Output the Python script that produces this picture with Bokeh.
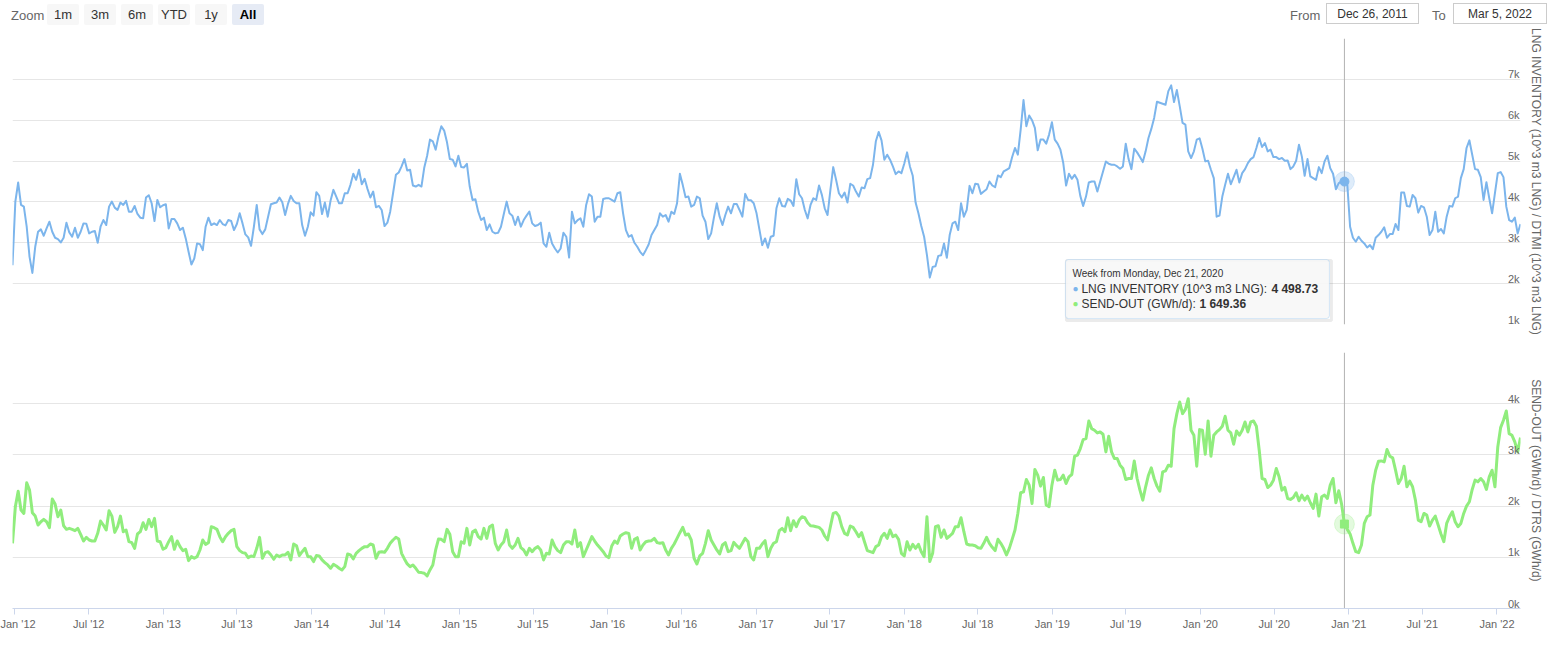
import pandas as pd
from bokeh.plotting import figure
from bokeh.models import (Range1d, FixedTicker, Grid, LinearAxis, Span, Label,
                          BoxAnnotation, Div, ColumnDataSource)
from bokeh.layouts import column
from bokeh.core.properties import value
from bokeh.embed import file_html
from bokeh.resources import INLINE

# ---------------- data ----------------
START_DATE = "2011-12-26"          # weekly points, Mondays
RANGE_FROM = "Dec 26, 2011"
RANGE_TO = "Mar 5, 2022"
ZOOM_BUTTONS = ["1m", "3m", "6m", "YTD", "1y", "All"]
SELECTED_BUTTON = "All"

INV_NAME = "LNG INVENTORY (10^3 m3 LNG)"
SEND_NAME = "SEND-OUT (GWh/d)"
INV_AXIS_TITLE = "LNG INVENTORY (10^3 m3 LNG) / DTMI (10^3 m3 LNG)"
SEND_AXIS_TITLE = "SEND-OUT (GWh/d) / DTRS (GWh/d)"

INVENTORY = [
    2451, 4008, 4475, 3926, 3885, 3393, 2656, 2262, 2902, 3270,
    3328, 3172, 3352, 3516, 3270, 3123, 3090, 3008, 3123, 3492,
    3254, 3148, 3369, 3123, 3270, 3475, 3467, 3230, 3270, 3287,
    3000, 3393, 3557, 3434, 3885, 4008, 3861, 3803, 3984, 3926,
    4025, 3762, 3762, 3902, 3705, 3615, 3598, 4107, 4164, 3967,
    3533, 4049, 3869, 3918, 3943, 3352, 3582, 3582, 3475, 3311,
    3369, 3107, 2779, 2467, 2615, 2984, 2967, 2820, 3393, 3615,
    3434, 3475, 3434, 3557, 3459, 3426, 3557, 3533, 3311, 3459,
    3721, 3475, 3205, 3131, 2926, 3393, 3926, 3328, 3213, 3328,
    3639, 3943, 3967, 3984, 4107, 3992, 3680, 3951, 4148, 4025,
    3967, 3967, 3434, 3172, 3393, 3746, 3664, 4238, 4148, 3705,
    3984, 3639, 4033, 4295, 4131, 3967, 3967, 4213, 4213, 4418,
    4689, 4541, 4787, 4434, 4566, 4320, 4107, 4254, 3869, 3902,
    3803, 3410, 3492, 3762, 4213, 4664, 4721, 4869, 5049, 4770,
    4787, 4402, 4377, 4418, 4377, 4844, 5131, 5525, 5484, 5279,
    5607, 5852, 5746, 5459, 5049, 5033, 4869, 5131, 4852, 4844,
    4934, 4377, 4049, 4066, 3762, 3557, 3615, 3311, 3451, 3270,
    3230, 3246, 3393, 3705, 4008, 3721, 3664, 3434, 3639, 3393,
    3557, 3664, 3762, 3475, 3410, 3434, 3492, 2984, 2902, 3246,
    2984, 2861, 2762, 2861, 3246, 3148, 2639, 3762, 3475, 3557,
    3598, 3393, 3926, 4189, 4131, 3516, 3639, 3639, 4074, 4090,
    4090, 4049, 4008, 4213, 4238, 3721, 3311, 3148, 3189, 3000,
    2902, 2779, 2697, 2820, 2959, 3189, 3311, 3434, 3721, 3639,
    3680, 3516, 3762, 3705, 3967, 4689, 4418, 4115, 4131, 3885,
    3926, 4131, 4090, 3664, 3516, 3090, 3230, 3623, 3967, 3639,
    3434, 3680, 3885, 3721, 3951, 3951, 3803, 3639, 4197, 4049,
    4040, 3967, 3721, 3328, 2943, 3107, 2877, 3148, 3172, 3844,
    4090, 3902, 3885, 4074, 4033, 3902, 4557, 4189, 4090, 3803,
    3598, 3926, 4090, 4049, 4402, 4172, 3844, 3680, 4295, 4852,
    4541, 4213, 4107, 4230, 3984, 4443, 4402, 4254, 4131, 4352,
    4336, 4557, 4582, 4910, 5484, 5713, 5508, 5033, 5156, 5033,
    4869, 4680, 4746, 4705, 4934, 5213, 4869, 4639, 3984, 3721,
    3410, 3148, 2697, 2148, 2410, 2426, 2680, 2697, 2984, 2631,
    3189, 3475, 3516, 3311, 3967, 3639, 3803, 4393, 4213, 4443,
    4434, 4197, 4254, 4311, 4500, 4402, 4361, 4648, 4607, 4746,
    4787, 4828, 5098, 5320, 5156, 5770, 6492, 5852, 6115, 6000,
    5811, 5262, 5525, 5525, 5426, 5648, 5951, 5525, 5426, 5279,
    4951, 4402, 4689, 4566, 4664, 4541, 4148, 3902, 4131, 4475,
    4500, 4500, 4254, 4500, 4746, 4992, 4934, 4910, 4910, 4869,
    4811, 4869, 5426, 5049, 4803, 5303, 5213, 5098, 4975, 5238,
    5566, 5787, 6057, 6451, 6426, 6402, 6377, 6713, 6852, 6443,
    6738, 6344, 5934, 5893, 5238, 5074, 5238, 5525, 5557, 5303,
    4992, 5008, 4787, 4582, 3639, 3664, 4131, 4418, 4689, 4434,
    4607, 4787, 4475, 4705, 4803, 4951, 5049, 5098, 5320, 5566,
    5344, 5443, 5238, 5279, 5098, 5098, 5049, 5074, 5008, 5016,
    4803, 4869, 5008, 5402, 5115, 4639, 5049, 4623, 4582, 4541,
    4852, 4705, 4992, 5131, 4828, 4689, 4311, 4459, 4500, 4498.73,
    4443, 3393, 3123, 3025, 3148, 3049, 2984, 2885, 2943, 2844,
    3123, 3189, 3270, 3377, 3123, 3213, 3213, 3459, 3311, 4230,
    4230, 3902, 3885, 4172, 4090, 3738, 3902, 3869, 3639, 3189,
    3311, 3762, 3270, 3336, 3230, 3639, 3902, 3885, 4090, 4131,
    4582, 4803, 5320, 5508, 5156, 4803, 4787, 4607, 4049, 4484,
    4090, 3721, 4213, 4705, 4730, 4607, 3885, 3557, 3516, 3615,
    3230, 3459,
]

SENDOUT = [
    1273, 1987, 2292, 1922, 1857, 2455, 2312, 1870, 1805, 1630,
    1695, 1740, 1695, 1578, 2137, 2039, 1792, 1922, 1617, 1546,
    1565, 1546, 1520, 1565, 1448, 1318, 1390, 1338, 1318, 1318,
    1468, 1708, 1630, 1533, 1909, 1805, 1487, 1598, 1805, 1500,
    1533, 1305, 1286, 1175, 1455, 1500, 1675, 1546, 1740, 1598,
    1760, 1318, 1305, 1156, 1188, 1305, 1403, 1156, 1318, 1208,
    1130, 1156, 935, 1013, 981, 1013, 1143, 1338, 1253, 1286,
    1598, 1578, 1546, 1403, 1305, 1403, 1468, 1520, 1546, 1208,
    1130, 1091, 1078, 994, 1026, 1013, 1175, 1390, 981, 1091,
    1110, 1046, 961, 1046, 1013, 1046, 1046, 1097, 948, 1260,
    1227, 1033, 1110, 1175, 1013, 1013, 916, 1033, 1026, 948,
    896, 851, 786, 864, 831, 786, 753, 818, 1065, 1046,
    968, 1078, 1130, 1175, 1208, 1208, 1260, 1240, 981, 1097,
    1110, 1097, 1175, 1273, 1338, 1390, 1357, 1078, 968, 870,
    818, 851, 786, 708, 701, 688, 636, 753, 851, 1143,
    1357, 1351, 1305, 1546, 1448, 1110, 1013, 1013, 1305, 1273,
    1565, 1240, 1500, 1533, 1403, 1357, 1565, 1370, 1598, 1630,
    1273, 1143, 1240, 1305, 1533, 1240, 1175, 1240, 1370, 1188,
    1143, 1046, 1175, 1110, 1175, 1208, 1143, 948, 1078, 1065,
    1338, 1208, 1130, 1091, 1240, 1305, 1305, 1260, 1533, 1208,
    1286, 1013, 1143, 1273, 1403, 1318, 1240, 1175, 1110, 1026,
    994, 1221, 1318, 1273, 1416, 1455, 1481, 1468, 1175, 1351,
    1383, 1143, 1240, 1305, 1318, 1325, 1370, 1286, 1273, 1286,
    1143, 1046, 1175, 1260, 1370, 1481, 1585, 1435, 1455, 1338,
    981, 870, 1026, 1078, 1273, 1520, 1338, 1240, 1143, 1065,
    1240, 1286, 1110, 1130, 1292, 1227, 1175, 1273, 1370, 1305,
    1013, 948, 1175, 1175, 1260, 1325, 1013, 1175, 1273, 1305,
    1520, 1565, 1500, 1773, 1520, 1714, 1598, 1727, 1792, 1773,
    1675, 1617, 1611, 1598, 1585, 1533, 1416, 1338, 1598, 1857,
    1877, 1805, 1598, 1468, 1435, 1611, 1585, 1500, 1403, 1481,
    1305, 1130, 1110, 1091, 1208, 1240, 1403, 1468, 1370, 1533,
    1403, 1435, 1351, 1078, 1026, 1305, 1143, 1253, 1175, 1253,
    1110, 1013, 1792, 916, 1078, 1598, 1617, 1390, 1533, 1370,
    1416, 1468, 1598, 1598, 1773, 1500, 1260, 1240, 1240, 1227,
    1188, 1175, 1273, 1390, 1273, 1195, 1130, 1351, 1273, 1175,
    1046, 1175, 1351, 1533, 1857, 2260, 2279, 2520, 2409, 2052,
    2715, 2604, 2390, 2559, 2020, 1987, 2409, 2701, 2507, 2520,
    2604, 2442, 2572, 2617, 2974, 2994, 3124, 3299, 3318, 3663,
    3513, 3481, 3429, 3448, 3403, 3059, 3364, 3059, 2929, 2929,
    2799, 2734, 2520, 2539, 2539, 2883, 2539, 2312, 2117, 2377,
    2604, 2747, 2539, 2390, 2292, 2669, 2689, 2799, 2779, 3513,
    3806, 4033, 3806, 3890, 4098, 3481, 3383, 2779, 3494, 3481,
    3013, 3663, 2974, 3383, 3448, 3494, 3559, 3754, 3481, 3429,
    3208, 3468, 3383, 3481, 3643, 3448, 3643, 3663, 3559, 3091,
    2539, 2520, 2364, 2409, 2507, 2734, 2572, 2312, 2364, 2149,
    2130, 2169, 2260, 2104, 2214, 2117, 2195, 2065, 1955, 2234,
    1805, 2182, 2214, 2149, 2409, 2539, 2065, 2299, 2039, 1649.36,
    1546, 1455, 1273, 1110, 1091, 1240, 1662, 1792, 1825, 2409,
    2701, 2877, 2883, 2864, 3104, 2974, 2942, 2701, 2442, 2539,
    2779, 2377, 2487, 2377, 2117, 1727, 1695, 1857, 1825, 1611,
    1727, 1805, 1630, 1455, 1305, 1662, 1792, 1890, 1695, 1598,
    1662, 1857, 2000, 2085, 2325, 2507, 2474, 2539, 2474, 2325,
    2572, 2701, 2377, 3156, 3533, 3676, 3858, 3416, 3383, 3253,
    3059, 3338,
]

HOVER_INDEX = 469
HOVER_HEADER = "Week from Monday, Dec 21, 2020"
HOVER_INV_TEXT = "4 498.73"
HOVER_SEND_TEXT = "1 649.36"

INV_RANGE = (1000, 8000)
INV_GRID = [1000, 2000, 3000, 4000, 5000, 6000, 7000, 8000]
INV_TICKS = [1000, 2000, 3000, 4000, 5000, 6000, 7000]
INV_TICK_LABELS = ["1k", "2k", "3k", "4k", "5k", "6k", "7k"]

SEND_RANGE = (0, 5000)
SEND_GRID = [1000, 2000, 3000, 4000, 5000]
SEND_TICKS = [0, 1000, 2000, 3000, 4000]
SEND_TICK_LABELS = ["0k", "1k", "2k", "3k", "4k"]

X_TICK_DATES = ["2012-01-01", "2012-07-01", "2013-01-01", "2013-07-01", "2014-01-01",
                "2014-07-01", "2015-01-01", "2015-07-01", "2016-01-01", "2016-07-01",
                "2017-01-01", "2017-07-01", "2018-01-01", "2018-07-01", "2019-01-01",
                "2019-07-01", "2020-01-01", "2020-07-01", "2021-01-01", "2021-07-01",
                "2022-01-01"]

# ---------------- styling ----------------
FONT = "Liberation Sans"
BLUE = "#7cb5ec"
GREEN = "#90ed7d"
GRID = "#e6e6e6"
LABEL = "#666666"
W = 1550
HEADER_H = 26
BORDER_L = 12
BORDER_R = 30
TOP_FRAME_H = 286
BOT_FRAME_H = 256

dates = pd.date_range(START_DATE, periods=len(INVENTORY), freq="7D")
src = ColumnDataSource(dict(date=dates, inv=INVENTORY, send=SENDOUT))
x_start, x_end = dates[0], dates[-1]
xr = Range1d(start=x_start, end=x_end)


def make_fig(height, yr, border_top, border_bottom, x_axis):
    p = figure(width=W, height=height, x_range=xr, y_range=Range1d(*yr),
               x_axis_type="datetime", x_axis_location=x_axis, y_axis_location=None,
               output_backend="svg", toolbar_location=None,
               min_border_left=BORDER_L, min_border_right=BORDER_R,
               min_border_top=border_top, min_border_bottom=border_bottom)
    p.center = [r for r in p.center if not isinstance(r, Grid)]
    p.outline_line_color = None
    p.background_fill_color = "white"
    p.border_fill_color = "white"
    return p


def add_right_title(p, text):
    ax = LinearAxis(ticker=FixedTicker(ticks=[]), axis_label=text,
                    axis_line_color=None, major_tick_line_color=None,
                    minor_tick_line_color=None, major_label_text_font_size="0px",
                    axis_label_text_font=FONT, axis_label_text_font_size="12px",
                    axis_label_text_color=LABEL, axis_label_text_font_style="normal",
                    axis_label_standoff=8)
    p.add_layout(ax, "right")


def add_y_labels(p, ticks, labels):
    s = ColumnDataSource(dict(x=[x_end] * len(ticks), y=ticks, t=labels))
    p.text(x="x", y="y", text="t", source=s, text_align="right",
           text_baseline="alphabetic", x_offset=-1, y_offset=-5,
           text_font=value(FONT), text_font_size="11px", text_color=LABEL)


# ---------------- top pane ----------------
TOP_BORDER_T = 38 - HEADER_H
top = make_fig(TOP_BORDER_T + TOP_FRAME_H + 14, INV_RANGE, TOP_BORDER_T, 14, None)
top.add_layout(Grid(dimension=1, ticker=FixedTicker(ticks=INV_GRID),
                    grid_line_color=GRID, grid_line_width=1))
hover_ms = dates[HOVER_INDEX].value / 1e6
top.add_layout(Span(location=hover_ms, dimension="height", line_color="#b3b3b3",
                    line_width=1, level="underlay"))
top.line("date", "inv", source=src, line_color=BLUE, line_width=2, line_join="round")
add_y_labels(top, INV_TICKS, INV_TICK_LABELS)
add_right_title(top, INV_AXIS_TITLE)

hv_inv = INVENTORY[HOVER_INDEX]
hv_send = SENDOUT[HOVER_INDEX]
top.scatter([dates[HOVER_INDEX]], [hv_inv], size=20, color=BLUE, alpha=0.25)
top.scatter([dates[HOVER_INDEX]], [hv_inv], size=9, color=BLUE)

# tooltip (positioned relative to the hovered point, in pixels)
frame_w = W - BORDER_L - BORDER_R
ms_per_px = (x_end - x_start).total_seconds() * 1000 / frame_w
v_per_px = (INV_RANGE[1] - INV_RANGE[0]) / TOP_FRAME_H
bl, br, bt, bb = -279, -15, 78, 137
top.add_layout(BoxAnnotation(left=hover_ms + (bl + 1) * ms_per_px, right=hover_ms + (br + 2) * ms_per_px,
                             top=hv_inv - (bt + 1) * v_per_px, bottom=hv_inv - (bb + 2) * v_per_px,
                             fill_color=None, line_color="black", line_alpha=0.08, line_width=3))
top.add_layout(BoxAnnotation(left=hover_ms + bl * ms_per_px, right=hover_ms + br * ms_per_px,
                             top=hv_inv - bt * v_per_px, bottom=hv_inv - bb * v_per_px,
                             fill_color="#f7f7f7", fill_alpha=0.9, line_color=BLUE,
                             line_width=1, border_radius=3))


def tip(text, dx, dy, size="12px", color="#333333", style="normal", align="left"):
    top.add_layout(Label(x=hover_ms, y=hv_inv, x_offset=dx, y_offset=-dy, text=text,
                         text_font=FONT, text_font_size=size, text_color=color,
                         text_font_style=style, text_align=align, text_baseline="middle"))


tip(HOVER_HEADER, -272, 92, size="10px")
tip("\u25cf", -269, 107, size="10px", color=BLUE, align="center")
tip(INV_NAME + ": ", -263, 107)
tip(HOVER_INV_TEXT, -73, 107, style="bold")
tip("\u25cf", -269, 122, size="10px", color=GREEN, align="center")
tip(SEND_NAME + ": ", -263, 122)
tip(HOVER_SEND_TEXT, -145, 122, style="bold")

# ---------------- bottom pane ----------------
bot = make_fig(14 + BOT_FRAME_H + 32, SEND_RANGE, 14, 32, "below")
bot.add_layout(Grid(dimension=1, ticker=FixedTicker(ticks=SEND_GRID),
                    grid_line_color=GRID, grid_line_width=1))
bot.add_layout(Span(location=hover_ms, dimension="height", line_color="#b3b3b3",
                    line_width=1, level="underlay"))
bot.line("date", "send", source=src, line_color=GREEN, line_width=3, line_join="round")
add_y_labels(bot, SEND_TICKS, SEND_TICK_LABELS)
add_right_title(bot, SEND_AXIS_TITLE)
bot.scatter([dates[HOVER_INDEX]], [hv_send], size=20, color=GREEN, alpha=0.25)
bot.scatter([dates[HOVER_INDEX]], [hv_send], size=8, color=GREEN, marker="square")

tick_ts = [pd.Timestamp(d) for d in X_TICK_DATES]
tick_ms = [int(t.value // 1_000_000) for t in tick_ts]
xa = bot.xaxis[0]
xa.ticker = FixedTicker(ticks=tick_ms)
xa.major_label_overrides = {ms: t.strftime("%b '%y") for ms, t in zip(tick_ms, tick_ts)}
xa.axis_line_color = "#ccd6eb"
xa.major_tick_line_color = "#ccd6eb"
xa.major_tick_out = 6
xa.major_tick_in = 0
xa.minor_tick_line_color = None
xa.major_label_standoff = 3
xa.major_label_text_font = FONT
xa.major_label_text_font_size = "11px"
xa.major_label_text_color = LABEL

# ---------------- header (range selector) ----------------
btn_html = ""
for i, b in enumerate(ZOOM_BUTTONS):
    sel = b == SELECTED_BUTTON
    btn_html += (
        f'<span style="position:absolute;left:{47 + 37 * i}px;top:4px;width:32px;height:21px;'
        f'line-height:21px;text-align:center;border-radius:2px;font-size:13px;'
        f'background:{"#e6ebf5" if sel else "#f7f7f7"};color:{"#000" if sel else "#333"};'
        f'font-weight:{"bold" if sel else "normal"};">{b}</span>'
    )
header = (
    f'<div style="position:relative;width:{W}px;height:{HEADER_H}px;font-family:\'{FONT}\',Arial,sans-serif;">'
    f'<span style="position:absolute;left:11px;top:7px;font-size:13px;color:{LABEL};">Zoom</span>'
    + btn_html +
    f'<span style="position:absolute;left:1290px;top:7px;font-size:13px;color:{LABEL};">From</span>'
    f'<span style="position:absolute;left:1326px;top:3px;width:93px;height:21px;line-height:21px;'
    f'border:1px solid #cccccc;text-align:center;font-size:12px;color:#333;">{RANGE_FROM}</span>'
    f'<span style="position:absolute;left:1432px;top:7px;font-size:13px;color:{LABEL};">To</span>'
    f'<span style="position:absolute;left:1453px;top:3px;width:94px;height:21px;line-height:21px;'
    f'border:1px solid #cccccc;text-align:center;font-size:12px;color:#333;">{RANGE_TO}</span>'
    '</div>'
)
div = Div(text=header, width=W, height=HEADER_H, margin=(0, 0, 0, 0))

layout = column(div, top, bot, spacing=0)
open("out.html", "w").write(file_html(layout, INLINE))
